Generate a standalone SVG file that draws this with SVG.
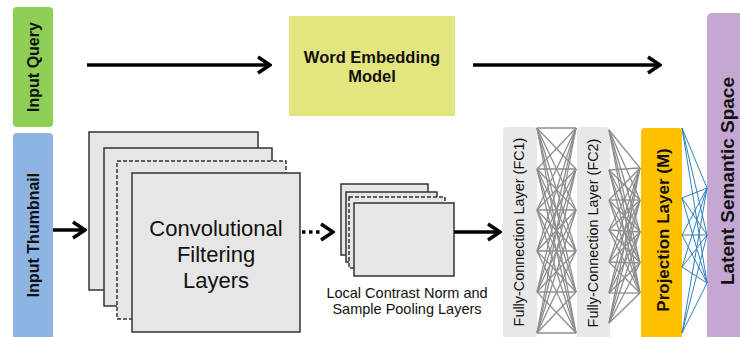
<svg xmlns="http://www.w3.org/2000/svg" width="740" height="337" viewBox="0 0 740 337">
<defs>
<style>
.lbl{font-family:"Liberation Sans",Arial,sans-serif;fill:#111}
.b{font-weight:bold}
.stack{fill:#e6e6e6;stroke:#333;stroke-width:1.5}
.dash{stroke-dasharray:4,2}
.arr{stroke:#000;stroke-width:3.5;fill:none}
.g{stroke:#8e8e8e;stroke-width:1.3}
.bl{stroke:#2f80c0;stroke-width:1}
</style>
<marker id="chev" markerUnits="userSpaceOnUse" viewBox="0 0 16 20" refX="14" refY="10" markerWidth="16" markerHeight="20" orient="auto">
<path d="M2,2 L14,10 L2,18" fill="none" stroke="#000" stroke-width="3.5" stroke-linejoin="miter"/>
</marker>
</defs>
<rect width="740" height="337" fill="#fff"/>

<g id="input-query">
<rect x="13" y="7" width="40" height="120" rx="4" fill="#8fcf55"/>
<text class="lbl b" font-size="16" text-anchor="middle" transform="translate(39,67) rotate(-90)">Input Query</text>
</g>

<g id="word-embedding">
<rect x="289" y="16" width="166" height="100" fill="#e3e67f"/>
<text class="lbl b" font-size="16.5" text-anchor="middle" x="372" y="63">Word Embedding</text>
<text class="lbl b" font-size="16.5" text-anchor="middle" x="372" y="82">Model</text>
</g>

<g id="latent-space">
<rect x="707" y="13" width="45" height="330" rx="5" fill="#c4a8d2"/>
<text class="lbl b" font-size="19" text-anchor="middle" transform="translate(734,181) rotate(-90)">Latent Semantic Space</text>
</g>

<g id="input-thumbnail">
<rect x="13" y="133" width="40" height="210" rx="4" fill="#8db4e2"/>
<text class="lbl b" font-size="16" text-anchor="middle" transform="translate(39,235) rotate(-90)">Input Thumbnail</text>
</g>

<g id="conv-layers">
<rect class="stack" x="89" y="132" width="169" height="158"/>
<rect class="stack" x="104" y="148" width="168" height="158"/>
<rect class="stack dash" x="117" y="161" width="169" height="158"/>
<rect class="stack" x="132" y="173" width="168" height="159"/>
<text class="lbl" font-size="22" text-anchor="middle" x="216" y="236">Convolutional</text>
<text class="lbl" font-size="22" text-anchor="middle" x="216" y="262">Filtering</text>
<text class="lbl" font-size="22" text-anchor="middle" x="216" y="288">Layers</text>
</g>

<g id="pooling-layers">
<rect class="stack" x="341" y="184" width="87" height="71"/>
<rect class="stack" x="346" y="192" width="91" height="70"/>
<rect class="stack dash" x="349" y="197" width="96" height="71"/>
<rect class="stack" x="354" y="203" width="100" height="73"/>
<text class="lbl" font-size="14.5" text-anchor="middle" x="407" y="298">Local Contrast Norm and</text>
<text class="lbl" font-size="14.5" text-anchor="middle" x="407" y="314">Sample Pooling Layers</text>
</g>

<g id="fc1">
<rect x="503" y="127" width="34" height="215" rx="4" fill="#e8e8e8"/>
<text class="lbl" font-size="14.4" fill="#333" text-anchor="middle" transform="translate(524,232) rotate(-90)">Fully-Connection Layer (FC1)</text>
</g>

<g id="fc2">
<rect x="577" y="127" width="33" height="215" rx="4" fill="#e8e8e8"/>
<text class="lbl" font-size="14.4" fill="#333" text-anchor="middle" transform="translate(598,233) rotate(-90)">Fully-Connection Layer (FC2)</text>
</g>

<g id="projection">
<rect x="641" y="128" width="41" height="214" rx="4" fill="#ffc000"/>
<text class="lbl b" font-size="17" text-anchor="middle" transform="translate(669,230) rotate(-90)">Projection Layer (M)</text>
</g>

<g id="connectors">
<line class="arr" x1="87" y1="65" x2="270" y2="65" marker-end="url(#chev)"/>
<line class="arr" x1="473" y1="65" x2="660" y2="65" marker-end="url(#chev)"/>
<line class="arr" x1="53" y1="230" x2="85" y2="230" marker-end="url(#chev)"/>
<line class="arr" x1="302" y1="232" x2="322" y2="232" stroke-dasharray="3.5,3.5"/>
<line class="arr" x1="330" y1="232" x2="333" y2="232" stroke="none" marker-end="url(#chev)"/>
<line class="arr" x1="454" y1="232" x2="500" y2="232" marker-end="url(#chev)"/>

<g class="g">
<line x1="537" y1="128" x2="576" y2="128"/><line x1="537" y1="128" x2="576" y2="169"/><line x1="537" y1="128" x2="576" y2="210"/><line x1="537" y1="128" x2="576" y2="251"/><line x1="537" y1="128" x2="576" y2="292"/><line x1="537" y1="128" x2="576" y2="333"/>
<line x1="537" y1="169" x2="576" y2="128"/><line x1="537" y1="169" x2="576" y2="169"/><line x1="537" y1="169" x2="576" y2="210"/><line x1="537" y1="169" x2="576" y2="251"/><line x1="537" y1="169" x2="576" y2="292"/><line x1="537" y1="169" x2="576" y2="333"/>
<line x1="537" y1="210" x2="576" y2="128"/><line x1="537" y1="210" x2="576" y2="169"/><line x1="537" y1="210" x2="576" y2="210"/><line x1="537" y1="210" x2="576" y2="251"/><line x1="537" y1="210" x2="576" y2="292"/><line x1="537" y1="210" x2="576" y2="333"/>
<line x1="537" y1="251" x2="576" y2="128"/><line x1="537" y1="251" x2="576" y2="169"/><line x1="537" y1="251" x2="576" y2="210"/><line x1="537" y1="251" x2="576" y2="251"/><line x1="537" y1="251" x2="576" y2="292"/><line x1="537" y1="251" x2="576" y2="333"/>
<line x1="537" y1="292" x2="576" y2="128"/><line x1="537" y1="292" x2="576" y2="169"/><line x1="537" y1="292" x2="576" y2="210"/><line x1="537" y1="292" x2="576" y2="251"/><line x1="537" y1="292" x2="576" y2="292"/><line x1="537" y1="292" x2="576" y2="333"/>
<line x1="537" y1="333" x2="576" y2="128"/><line x1="537" y1="333" x2="576" y2="169"/><line x1="537" y1="333" x2="576" y2="210"/><line x1="537" y1="333" x2="576" y2="251"/><line x1="537" y1="333" x2="576" y2="292"/><line x1="537" y1="333" x2="576" y2="333"/>

<line x1="609" y1="130" x2="640" y2="168"/><line x1="609" y1="130" x2="640" y2="200"/><line x1="609" y1="130" x2="640" y2="232"/><line x1="609" y1="130" x2="640" y2="263"/><line x1="609" y1="130" x2="640" y2="293"/>
<line x1="609" y1="170" x2="640" y2="168"/><line x1="609" y1="170" x2="640" y2="200"/><line x1="609" y1="170" x2="640" y2="232"/><line x1="609" y1="170" x2="640" y2="263"/><line x1="609" y1="170" x2="640" y2="293"/>
<line x1="609" y1="200" x2="640" y2="168"/><line x1="609" y1="200" x2="640" y2="200"/><line x1="609" y1="200" x2="640" y2="232"/><line x1="609" y1="200" x2="640" y2="263"/><line x1="609" y1="200" x2="640" y2="293"/>
<line x1="609" y1="230" x2="640" y2="168"/><line x1="609" y1="230" x2="640" y2="200"/><line x1="609" y1="230" x2="640" y2="232"/><line x1="609" y1="230" x2="640" y2="263"/><line x1="609" y1="230" x2="640" y2="293"/>
<line x1="609" y1="262" x2="640" y2="168"/><line x1="609" y1="262" x2="640" y2="200"/><line x1="609" y1="262" x2="640" y2="232"/><line x1="609" y1="262" x2="640" y2="263"/><line x1="609" y1="262" x2="640" y2="293"/>
<line x1="609" y1="293" x2="640" y2="168"/><line x1="609" y1="293" x2="640" y2="200"/><line x1="609" y1="293" x2="640" y2="232"/><line x1="609" y1="293" x2="640" y2="263"/><line x1="609" y1="293" x2="640" y2="293"/>
<line x1="609" y1="323" x2="640" y2="168"/><line x1="609" y1="323" x2="640" y2="200"/><line x1="609" y1="323" x2="640" y2="232"/><line x1="609" y1="323" x2="640" y2="263"/><line x1="609" y1="323" x2="640" y2="293"/>
</g>

<g class="bl">
<line x1="682" y1="128" x2="707" y2="188"/><line x1="682" y1="128" x2="707" y2="235"/><line x1="682" y1="128" x2="707" y2="283"/>
<line x1="682" y1="198" x2="707" y2="188"/><line x1="682" y1="198" x2="707" y2="235"/><line x1="682" y1="198" x2="707" y2="283"/>
<line x1="682" y1="235" x2="707" y2="188"/><line x1="682" y1="235" x2="707" y2="235"/><line x1="682" y1="235" x2="707" y2="283"/>
<line x1="682" y1="267" x2="707" y2="188"/><line x1="682" y1="267" x2="707" y2="235"/><line x1="682" y1="267" x2="707" y2="283"/>
<line x1="682" y1="333" x2="707" y2="188"/><line x1="682" y1="333" x2="707" y2="235"/><line x1="682" y1="333" x2="707" y2="283"/>
</g>
</g>
</svg>
